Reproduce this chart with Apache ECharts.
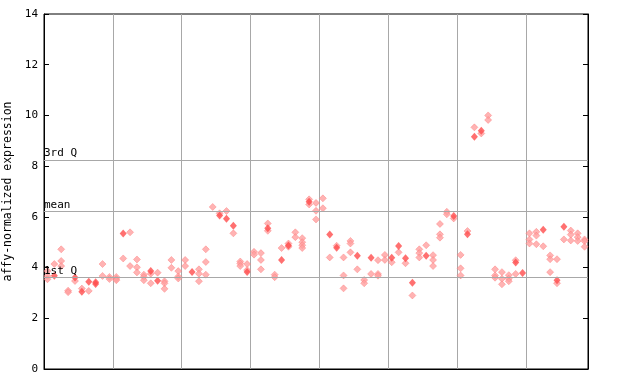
<!DOCTYPE html>
<html><head><meta charset="utf-8">
<script src="https://cdn.jsdelivr.net/npm/echarts@6/dist/echarts.min.js"></script>
<style>html,body{margin:0;padding:0;background:#fff}#c{width:640px;height:384px}</style>
</head><body><div id="c"></div>
<script>
const yTicks = [0, 2, 4, 6, 8, 10, 12, 14];
const quartiles = [
  {name: '3rd Q', value: 8.24},
  {name: 'mean', value: 6.22},
  {name: '1st Q', value: 3.62}
];
const sampleCount = 79;
// [sample index, expression] - solid diamonds
const filledPoints = [
  [1,3.68],[4,3.61],[5,3.05],[6,3.44],[7,3.42],[7,3.35],
  [11,5.34],[15,3.86],[16,3.48],
  [21,3.83],[25,6.05],[26,5.93],[27,5.65],[29,3.83],
  [32,5.55],[34,4.30],[35,4.87],[38,6.60],
  [41,5.30],[42,4.78],[45,4.47],[47,4.39],
  [50,4.39],[51,4.85],[52,4.37],[53,3.40],[55,4.47],[59,6.03],
  [61,5.31],[62,9.16],[63,9.40],[68,4.20],[69,3.79],
  [72,5.49],[74,3.50],[75,5.61]
];
// [sample index, expression] - dotted diamonds
const hollowPoints = [
  [0,3.86],[0,3.67],[0,3.54],[1,4.14],[2,4.72],[2,4.26],[2,4.06],[3,3.09],[3,3.03],
  [4,3.47],[5,3.17],[6,3.08],[8,4.14],[8,3.67],[9,3.63],[9,3.55],
  [10,3.63],[10,3.55],[10,3.50],[11,4.36],[12,5.39],[12,4.06],[13,4.32],[13,4.01],[13,3.81],
  [14,3.72],[14,3.63],[14,3.50],[15,3.76],[15,3.38],[16,3.80],[17,3.46],[17,3.38],[17,3.16],
  [18,4.30],[18,3.99],[19,3.86],[19,3.65],[19,3.57],
  [20,4.30],[20,4.06],[22,3.93],[22,3.76],[22,3.46],[23,4.72],[23,4.22],[23,3.72],
  [24,6.39],[25,6.14],[26,6.23],[27,5.35],[28,4.24],[28,4.16],[28,4.06],[29,4.14],[29,3.90],
  [30,4.62],[30,4.51],[31,4.57],[31,4.30],[31,3.93],[32,5.74],[32,5.45],[33,3.72],[33,3.62],
  [34,4.77],[35,4.95],[35,4.82],[36,5.39],[36,5.20],[37,5.16],[37,5.00],[37,4.88],[37,4.77],
  [38,6.69],[38,6.49],[39,6.55],[39,6.24],[39,5.90],
  [40,6.73],[40,6.34],[41,4.40],[42,4.86],[43,4.40],[43,3.69],[43,3.18],[44,5.05],[44,4.95],[44,4.60],
  [45,3.93],[46,3.51],[46,3.38],[47,3.75],[48,4.29],[48,3.75],[48,3.68],[49,4.50],[49,4.30],
  [50,4.21],[51,4.60],[52,4.17],[53,2.90],[54,4.72],[54,4.57],[54,4.40],[55,4.88],
  [56,4.49],[56,4.30],[56,4.06],[57,5.72],[57,5.31],[57,5.18],[58,6.20],[58,6.10],[59,5.94],
  [60,4.50],[60,3.97],[60,3.69],[61,5.44],[62,9.53],[63,9.29],[64,10.00],[64,9.82],
  [65,3.93],[65,3.69],[65,3.60],[66,3.82],[66,3.56],[66,3.34],[67,3.70],[67,3.56],[67,3.46],
  [68,4.29],[68,3.75],
  [70,5.35],[70,5.11],[70,4.95],[71,5.41],[71,5.26],[71,4.92],[72,4.84],[73,4.48],[73,4.33],[73,3.82],
  [74,4.33],[74,3.38],[75,5.11],[76,5.46],[76,5.30],[76,5.07],[77,5.35],[77,5.20],[77,5.05],
  [78,5.11],[78,5.04],[78,4.82]
];

const toXY = p => [p[0] + 0.5, p[1]];
const chart = echarts.init(document.getElementById('c'), null, {renderer: 'canvas'});
const mono = 'DejaVu Sans Mono';
chart.setOption({
  animation: false,
  grid: {left: 44, right: 52, top: 14, bottom: 15, outerBoundsMode: 'none', containLabel: false,
         show: true, borderColor: '#000', borderWidth: 1, backgroundColor: 'transparent'},
  xAxis: {
    type: 'value', min: 0, max: sampleCount, interval: 10,
    axisLine: {show: true, lineStyle: {color: '#000'}},
    axisTick: {show: false}, axisLabel: {show: false},
    splitLine: {show: true, lineStyle: {color: '#a8a8a8', width: 1}}
  },
  yAxis: [{
    type: 'value', min: yTicks[0], max: yTicks[yTicks.length - 1], interval: 2,
    name: 'affy-normalized expression', nameLocation: 'middle', nameGap: 22,
    nameTextStyle: {fontFamily: mono, fontSize: 11.5, color: '#000'},
    axisLine: {show: true, lineStyle: {color: '#000'}},
    axisTick: {show: true, inside: true, length: 5, lineStyle: {color: '#000'}},
    axisLabel: {fontFamily: mono, fontSize: 11, color: '#000', margin: 6},
    splitLine: {show: false}
  }, {
    type: 'value', min: yTicks[0], max: yTicks[yTicks.length - 1], interval: 2, position: 'right',
    axisLine: {show: true, lineStyle: {color: '#000'}},
    axisTick: {show: true, inside: true, length: 5, lineStyle: {color: '#000'}},
    axisLabel: {show: false}, splitLine: {show: false}
  }],
  series: [{
    type: 'scatter', symbol: 'diamond', symbolSize: [7, 7],
    data: hollowPoints.map(toXY),
    itemStyle: {color: '#ffa0a0', borderColor: '#ff7070', borderWidth: 0.5},
    z: 3,
    markLine: {
      silent: true, symbol: 'none', animation: false,
      lineStyle: {color: '#a8a8a8', width: 1, type: 'solid'},
      label: {show: true, position: 'insideStartTop', distance: [0, 1], formatter: '{b}',
              fontFamily: mono, fontSize: 11, color: '#000'},
      data: quartiles.map(q => ({name: q.name, yAxis: q.value}))
    }
  }, {
    type: 'scatter', symbol: 'diamond', symbolSize: [7, 8],
    data: filledPoints.map(toXY),
    itemStyle: {color: '#ff4c4c'},
    z: 4
  }]
});
</script></body></html>
